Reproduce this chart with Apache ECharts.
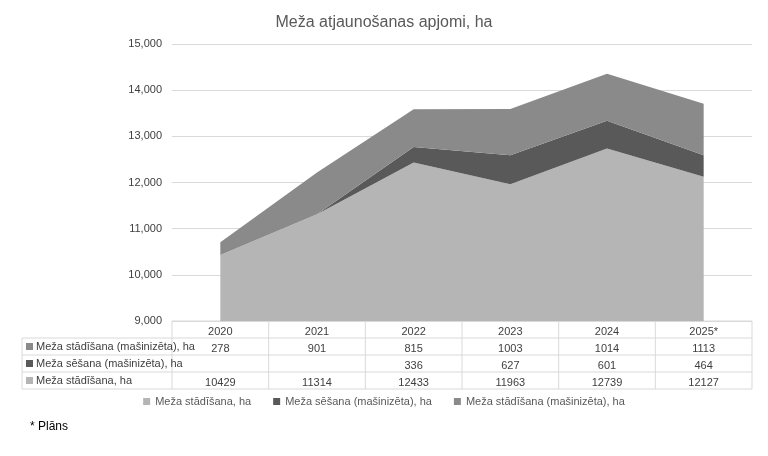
<!DOCTYPE html>
<html><head><meta charset="utf-8">
<script src="https://cdn.jsdelivr.net/npm/echarts@6/dist/echarts.min.js"></script>
<style>html,body{margin:0;background:#fff}#main{width:768px;height:456px}</style>
</head><body><div id="main"></div>
<script>
var years = ['2020', '2021', '2022', '2023', '2024', '2025*'];
var planting = [10429, 11314, 12433, 11963, 12739, 12127];
var seeding = [null, null, 336, 627, 601, 464];
var mechPlanting = [278, 901, 815, 1003, 1014, 1113];
var names = ['Meža stādīšana, ha', 'Meža sēšana (mašinizēta), ha', 'Meža stādīšana (mašinizēta), ha'];
var colors = ['#b5b5b5', '#595959', '#8a8a8a'];

var L = 172, R = 752, T = 44, B = 321, rowH = 17, tableL = 22;
var colW = (R - L) / years.length;
var rows = [
    { name: names[2], data: mechPlanting, color: colors[2] },
    { name: names[1], data: seeding, color: colors[1] },
    { name: names[0], data: planting, color: colors[0] }
];

var lineStyle = { stroke: '#d9d9d9', lineWidth: 1 };
var graphics = [];
for (var r = 0; r <= rows.length + 1; r++) {
    var y = B + r * rowH;
    graphics.push({ type: 'line', shape: { x1: r === 0 ? L : tableL, y1: y, x2: R, y2: y }, style: lineStyle });
}
for (var c = 0; c <= years.length; c++) {
    graphics.push({ type: 'line', shape: { x1: L + c * colW, y1: B, x2: L + c * colW, y2: B + 4 * rowH }, style: lineStyle });
}
graphics.push({ type: 'line', shape: { x1: tableL, y1: B + rowH, x2: tableL, y2: B + 4 * rowH }, style: lineStyle });
rows.forEach(function(row, i) {
    var y = B + (i + 1) * rowH + rowH / 2;
    graphics.push({ type: 'rect', shape: { x: tableL + 4, y: y - 3.5, width: 7, height: 7 }, style: { fill: row.color } });
    graphics.push({ type: 'text', x: tableL + 14, y: y, style: { text: row.name, fill: '#404040', font: '11px "Liberation Sans", Arial', verticalAlign: 'middle' } });
});
graphics.push({ type: 'text', x: 30, y: 427, style: { text: '* Plāns', fill: '#000', font: '12px "Liberation Sans", Arial', verticalAlign: 'middle' } });

var xAxes = [{
    type: 'category', data: years, gridIndex: 0, position: 'bottom', boundaryGap: true,
    axisLine: { show: false }, axisTick: { show: false },
    axisLabel: { color: '#404040', fontSize: 11, margin: 5 }
}];
rows.forEach(function(row, i) {
    xAxes.push({
        type: 'category', data: years, gridIndex: 0, position: 'bottom', offset: (i + 1) * rowH,
        axisLine: { show: false }, axisTick: { show: false },
        axisLabel: { color: '#404040', fontSize: 11, margin: 5, formatter: function(v, idx) {
            var d = row.data[idx]; return d == null ? '' : String(d);
        } }
    });
});

function series(name, data, color) {
    return {
        name: name, type: 'line', stack: 'total', data: data.map(function(v) { return v == null ? 0 : v; }),
        symbol: 'none', lineStyle: { width: 0 }, areaStyle: { color: color, opacity: 1 }, itemStyle: { color: color }
    };
}

var myChart = echarts.init(document.getElementById('main'));
myChart.setOption({
    animation: false,
    title: { text: 'Meža atjaunošanas apjomi, ha', left: 'center', top: 10,
        textStyle: { color: '#595959', fontSize: 16, fontWeight: 'normal', fontFamily: 'Liberation Sans' } },
    textStyle: { fontFamily: 'Liberation Sans' },
    grid: { left: L, right: 768 - R, top: T, bottom: 456 - B },
    legend: { bottom: 44, left: 'center', itemWidth: 7, itemHeight: 7, itemGap: 22, icon: 'rect',
        textStyle: { color: '#595959', fontSize: 11 }, data: names },
    xAxis: xAxes,
    yAxis: { type: 'value', min: 9000, max: 15000, interval: 1000,
        axisLabel: { color: '#404040', fontSize: 11, margin: 10 },
        splitLine: { lineStyle: { color: '#d9d9d9' } } },
    series: [
        series(names[0], planting, colors[0]),
        series(names[1], seeding, colors[1]),
        series(names[2], mechPlanting, colors[2])
    ],
    graphic: graphics
});
</script></body></html>
